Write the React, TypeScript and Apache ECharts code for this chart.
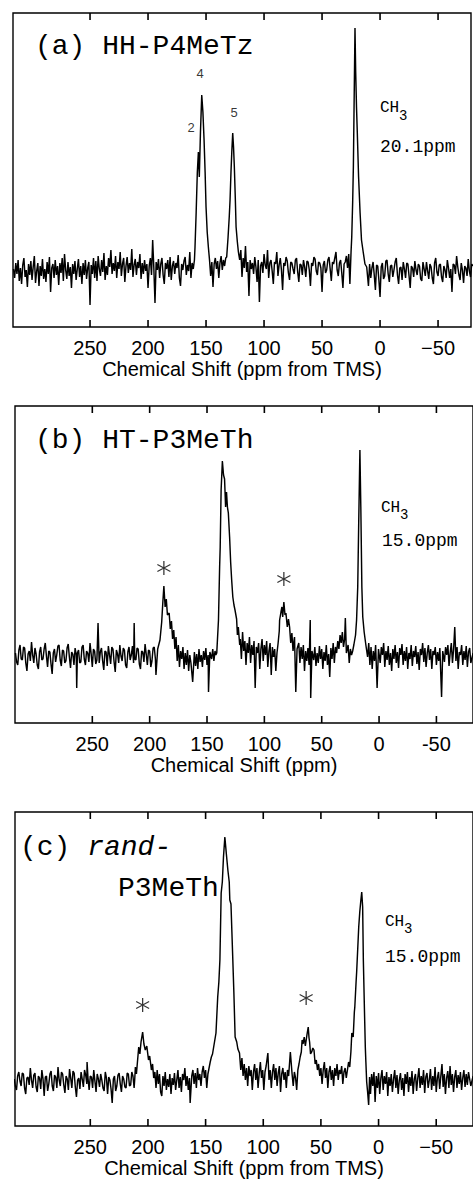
import { useEffect, useRef } from "react";
import * as echarts from "echarts";

// ---- data (ppm, intensity above baseline; arbitrary units) ----
const tickValues = [250, 200, 150, 100, 50, 0, -50];

const spectrumA: [number, number][] = [
  [316, 3], [315, -6], [314, 9], [313, -2], [312, 12], [311, -9], [310, 4], [309, -12], [308, 7], [307, 14],
  [306, -5], [305, 2], [304, -15], [303, 8], [302, -3], [301, 11], [300, -8], [299, 5], [298, 16], [297, -11],
  [296, 1], [295, 9], [294, -14], [293, 6], [292, -4], [291, 13], [290, -7], [289, 3], [288, -10], [287, 10],
  [286, -2], [285, 15], [284, -20], [283, 4], [282, 8], [281, -6], [280, 12], [279, -3], [278, 6], [277, -13],
  [276, 9], [275, -1], [274, 14], [273, -9], [272, 18], [271, 2], [270, -7], [269, 10], [268, -4], [267, 5],
  [266, -16], [265, 8], [264, -2], [263, 11], [262, -8], [261, 3], [260, 13], [259, -5], [258, 6], [257, -12],
  [256, 9], [255, -3], [254, 12], [253, -7], [252, 4], [251, 10], [250, -33], [249, 7], [248, -2], [247, 14],
  [246, -6], [245, 11], [244, -9], [243, 16], [242, 3], [241, -4], [240, 12], [239, 0], [238, 19], [237, -8],
  [236, 6], [235, -3], [234, 14], [233, 5], [232, 22], [231, -2], [230, 9], [229, 1], [228, 16], [227, -6],
  [226, 10], [225, 3], [224, 20], [223, -4], [222, 8], [221, 14], [220, -10], [219, 6], [218, 15], [217, -1],
  [216, 9], [215, 2], [214, 23], [213, -5], [212, 7], [211, 13], [210, -3], [209, 10], [208, 4], [207, 18],
  [206, -7], [205, 9], [204, -2], [203, 12], [202, 1], [201, 8], [200, -16], [199, 6], [198, 14], [197, -3],
  [196, 32], [195, 4], [194, -31], [193, 10], [192, 2], [191, 13], [190, -6], [189, 8], [188, 14], [187, -3],
  [186, -12], [185, 9], [184, 3], [183, 12], [182, -5], [181, 15], [180, -8], [179, 6], [178, 11], [177, -2],
  [176, 9], [175, 4], [174, 17], [173, -6], [172, -14], [171, 8], [170, 2], [169, 11], [168, 15], [167, -3],
  [166, 7], [165, 1], [164, 20], [163, -6], [162, 9], [161, 3], [160, 12],
  [159.5, 25], [158.5, 60], [157.5, 100], [156.6, 120], [155.8, 95], [154.8, 140], [153.7, 177], [152.7, 160],
  [151.7, 132], [150.8, 100], [150, 65], [149, 40], [148, 25], [147, 12], [146, -4], [145, 10], [144, -15],
  [143, 8], [142, 14], [141, 3], [140, 11], [139, -6], [138, 9], [137, 16], [136, 2], [135, 12], [134, 6],
  [133, 14], [132.2, 15], [131, 35], [130, 55], [129.3, 72], [128.5, 100], [127.8, 120], [127, 139], [126.3, 125],
  [125.6, 105], [124.8, 75], [124.1, 45], [123, 30], [122.1, 20], [121, 12], [120, 22], [119, -5], [118, 14],
  [117, 4], [116, 26], [115, 0], [114, 10], [113, -24], [112, 12], [111, 3], [110, 9], [109, -2], [108, 15],
  [107, 5], [106, -10], [105, 12], [104, -30], [103, 6], [102, 10], [101, -1], [100, 18], [99, 7], [98, 3],
  [97, 22], [96, -6], [95, 9], [94, 12], [93, 1], [92, -12], [91, 10], [90, 8], [89, 20], [88, -4], [87, 7],
  [86, 14], [85, 2], [84, -18], [83, 9], [82, 6], [81, 15], [80, 11], [79, -1], [78, -8], [77, 10], [76, 9],
  [75, 3], [74, -2], [73, 12], [72, 14], [71, 0], [70, -10], [69, 8], [68, 7], [67, -3], [66, 12], [65, 5],
  [64, -5], [63, 11], [62, 10], [61, 2], [60, -14], [59, 9], [58, 6], [57, 15], [56, 13], [55, 1], [54, -3],
  [53, 10], [52, 9], [51, 4], [50, -20], [49, 7], [48, 11], [47, -1], [46, 2], [45, 12], [44, 15], [43, 3],
  [42, -9], [41, 10], [40, 8], [39, 14], [38, 20], [37, 2], [36, -4], [35, 9], [34, 12], [33, -1], [32, -16],
  [31, 8], [30, 10], [29, 16], [28, 4], [27, 18], [26, -12], [25, 20],
  [24.4, 35], [23.6, 70], [23, 105], [22.3, 175], [21.6, 244], [21, 200], [20.3, 165], [19.6, 139], [18.5, 95],
  [17.2, 59], [16, 32], [14.4, 19], [13, 8], [11.5, 5], [10, -14], [9, 8], [8, -6], [7, 4], [6, 10], [5, -3],
  [4, -18], [3, 7], [2, 6], [1, -8], [0, -25], [-1, 5], [-2, 9], [-3, -7], [-4, -4], [-5, 11], [-6, 12],
  [-7, -2], [-8, -10], [-9, 6], [-10, 7], [-11, -5], [-12, 2], [-13, 10], [-14, 14], [-15, -3], [-16, -12],
  [-17, 4], [-18, 5], [-19, -8], [-20, 10], [-21, 3], [-22, -6], [-23, 9], [-24, 8], [-25, -4], [-26, -16],
  [-27, 6], [-28, 4], [-29, -5], [-30, 11], [-31, 2], [-32, -3], [-33, 8], [-34, 6], [-35, -7], [-36, -9],
  [-37, 10], [-38, 3], [-39, -4], [-40, 10], [-41, 1], [-42, -7], [-43, 8], [-44, 5], [-45, -6], [-46, -12],
  [-47, 9], [-48, 14], [-49, 0], [-50, -4], [-51, 7], [-52, 8], [-53, -5], [-54, -10], [-55, 6], [-56, 2],
  [-57, -6], [-58, 12], [-59, 4], [-60, -6], [-61, 3], [-62, -20], [-63, 8], [-64, 7], [-65, -2], [-66, 16],
  [-67, 5], [-68, -3], [-69, -8], [-70, 9], [-71, 2], [-72, -11], [-73, 6], [-74, 4], [-75, -4], [-76, 13],
  [-77, 1], [-78, -5], [-79, 8], [-80, 6],
];

const spectrumB: [number, number][] = [
  [317, 4], [316, -5], [315, -8], [314, 7], [313, 12], [312, -2], [311, -3], [310, 10], [309, 9], [308, -6],
  [307, -14], [306, 3], [305, 6], [304, -4], [303, 15], [302, 2], [301, -6], [300, 9], [299, 3], [298, -8],
  [297, -12], [296, 5], [295, 10], [294, -3], [293, -2], [292, 8], [291, 14], [290, 1], [289, -10], [288, 6],
  [287, 5], [286, -7], [285, -17], [284, 4], [283, 8], [282, -5], [281, 2], [280, 11], [279, 12], [278, -3],
  [277, -9], [276, 7], [275, 6], [274, -6], [273, -4], [272, 9], [271, 13], [270, 0], [269, -11], [268, 5],
  [267, 3], [266, -8], [265, 9], [264, 2], [263.6, -31], [263, 4], [262, 7], [261, -6], [260, -5], [259, 10],
  [258, 12], [257, -2], [256, -8], [255, 6], [254, 4], [253, -5], [252, 14], [251, 3], [250, -10], [249, 8],
  [248, 6], [247, -7], [246, -3], [245, 34], [244, -6], [243, 5], [242, 9], [241, -4], [240, -13], [239, 6],
  [238, 5], [237, -9], [236, 11], [235, 2], [234, -7], [233, 10], [232, 8], [231, -5], [230, -15], [229, 7],
  [228, 3], [227, -6], [226, 12], [225, 1], [224, -4], [223, 9], [222, 7], [221, -8], [220, -11], [219, 5],
  [218, 10], [217, -3], [216, 2], [215, 11], [214, -6], [213.5, 34], [213, -2], [212, -3], [211, 9], [210, 8],
  [209, -7], [208, -12], [207, 6], [206, 5], [205, -5], [204, 13], [203, 3], [202, -8], [201, 7], [200, 6],
  [199, -10], [198, -4], [197, 9], [196, 10], [195, -2], [194.5, -18], [193, 8], [191, 17], [189.5, 35],
  [188.5, 55], [187.6, 71], [186.5, 50], [185.5, 58], [184.5, 42], [183, 44], [182, 28], [181, 36], [180, 18],
  [179, 27], [178, 8], [177, 20], [176, -4], [175, 12], [174, -10], [173, 6], [172, -2], [171, 10], [170, -12],
  [169, 4], [168, -8], [167, 7], [166, -14], [165, 2], [164, -6], [162.5, -25], [161, 5], [160, -9], [159, 3],
  [158, -12], [157, 8], [156, -5], [155, 2], [154, -10], [153, 6], [152, -3], [151, 9], [150, -8], [149, 2],
  [148.7, -35], [147.5, 5], [146, -2], [145, 8], [144, -4], [143, 6], [142.3, 2], [141.5, 4], [140, 37],
  [139, 90], [138.5, 110], [137.7, 167], [136.6, 196], [135.6, 182], [134.7, 178], [133.8, 150], [133, 165],
  [132.2, 150], [131.4, 144], [130.3, 120], [129.4, 95], [128.5, 77], [127.5, 60], [126.5, 52], [125.6, 47],
  [124.2, 38], [123.5, 22], [122.7, 30], [121.5, 12], [121, 18], [120, -2], [119, 25], [118, 6], [117, 16],
  [116, -8], [115, 14], [114, 4], [113, 20], [112, -6], [111, 12], [110, 2], [109, 16], [108, -31], [107, 10],
  [106, 4], [105, 14], [104, -12], [103, 8], [102, 18], [101, -4], [100, 12], [99, 2], [98, 16], [97, -10],
  [96, 6], [95, 14], [94, -18], [93, 10], [92, 0], [91, 8], [90, -14], [89, 4], [88, 14], [87, 26], [86.7, 37],
  [85.5, 45], [84.7, 50], [84, 40], [83, 55], [82, 42], [81.2, 44], [80, 30], [79, 38], [78, 30], [77, 14],
  [76, 24], [75, 6], [74, 18], [73.7, 20], [72.6, -35], [71.5, 8], [70, 14], [69, -6], [68, 10], [67, -2],
  [66, 12], [65, -14], [64, 6], [63, -4], [62, 9], [61, -8], [60, 37], [59.6, -41], [58.5, 6], [57, -3],
  [56, 10], [55, -9], [54, 4], [53, -6], [52, 11], [51, -2], [50, 8], [49, -12], [48, 5], [47, -4], [46, 12],
  [45, -8], [44, 3], [43, -20], [42, 9], [41, -2], [40, 14], [39, -6], [38, 10], [37, 4], [36, 16], [35, 8],
  [34, 22], [33, 14], [32, 25], [31, 10], [30, 18], [29.4, 39], [28.5, 4], [27, 12], [26, -6], [25, 8],
  [24, 2], [23, 6], [22, 12], [20.5, 22], [19.6, 37], [18.6, 70], [17.8, 130], [16.7, 207], [15.9, 150],
  [15, 70], [14.2, 40], [13, 25], [11.5, 12], [10, 0], [9, 14], [8, -8], [7, 10], [6, -12], [5, 6], [4, -4],
  [3, 12], [1.7, -31], [0.5, 8], [-1, -6], [-2, 10], [-3, 2], [-4, 14], [-5, -10], [-6, 6], [-7, -3], [-8, 11],
  [-9, -8], [-10, 4], [-11, -14], [-12, 8], [-13, -2], [-14, 12], [-15, -6], [-16, 5], [-17, -11], [-18, 9],
  [-19, 2], [-20, 13], [-21, -8], [-22, 6], [-23, -4], [-24, 10], [-25, -12], [-26, 4], [-27, -2], [-28, 12],
  [-29, -9], [-30, 6], [-31, 0], [-32, 11], [-33, -7], [-34, 5], [-35, -13], [-36, 8], [-37, 2], [-38, 14],
  [-39, -5], [-40, 9], [-41, -10], [-42, 4], [-43, 12], [-44, -3], [-45, 8], [-46, -12], [-47, 6], [-48, 2],
  [-49, 10], [-50, -8], [-51, 5], [-52, -4], [-53, 9], [-54.5, -40], [-55.5, 6], [-57, -5], [-58, 10], [-59, 2],
  [-60, 12], [-61, -9], [-62, 4], [-63, 14], [-64, -6], [-65, 8], [-66, 30], [-67, -4], [-68, 10], [-69, -12],
  [-70, 5], [-71, 2], [-72, 12], [-73, -8], [-74, 6], [-75, -3], [-76, 11], [-77, -10], [-78, 5], [-79, 9],
  [-80, -6], [-82, 4],
];

const spectrumC: [number, number][] = [
  [316, 3], [315, -4], [314, -8], [313, 6], [312, 10], [311, 1], [310, -4], [309, 9], [308, 8], [307, -6],
  [306, -12], [305, 4], [304, 5], [303, -3], [302, 14], [301, 2], [300, -6], [299, 7], [298, 9], [297, -5],
  [296, -10], [295, 6], [294, 4], [293, -7], [292, 12], [291, 3], [290, -14], [289, 5], [288, 6], [287, -9],
  [286, -2], [285, 8], [284, 11], [283, -4], [282, -9], [281, 7], [280, 5], [279, -6], [278, 15], [277, 2],
  [276, -4], [275, 10], [274, 8], [273, -3], [272, -11], [271, 6], [270, 3], [269, -8], [268, 13], [267, 4],
  [266, -6], [265, 11], [264, 9], [263, -5], [262, -15], [261, 2], [260, 4], [259, -7], [258, 10], [257, 3],
  [256, -5], [255, 12], [254, 7], [253, -2], [252.8, 20], [252, 4], [251, -8], [250, 6], [249, 5], [248, -6],
  [247, 12], [246, 1], [245, -10], [244, 8], [243, 3], [242, -5], [241, 8], [240, 2], [239, -6], [238, -9],
  [237, 10], [236, 4], [235, -12], [234, 5], [233, 2], [232, -7], [231, -21], [230, 3], [229, 6], [228, -9],
  [227, -4], [226, 7], [225, 9], [224, -2], [223, -10], [222, 6], [221, 3], [220, -5], [219, -6], [218, 9],
  [217, 8], [216, -4], [215, -3], [214, 10], [213, 6], [212, -6], [211.5, 2], [210.9, 15], [210, 8], [208, 35],
  [207, 28], [206, 40], [204.6, 50], [203.5, 38], [202.3, 32], [201, 36], [199.5, 22], [198.5, 26], [197, 12],
  [196, 18], [195, 4], [194, 10], [193, -6], [192, 12], [191, -2], [190, 8], [189, -10], [188, -14], [187, 6],
  [186, -4], [185, 10], [184, -8], [183, 3], [182, -5], [181, 8], [180, -12], [179, 4], [178, -3], [177, 9],
  [176, -8], [175, 2], [174, 12], [173, -6], [172, 5], [171, -10], [170, 8], [169, 2], [168, 14], [167, -4],
  [166, 6], [165, -8], [164, 4], [163.4, -21], [162, 6], [161, 12], [160, -2], [159, 9], [158, -6], [157, 14],
  [156, 2], [155, 8], [154, -4], [153, 10], [152, 16], [151, 4], [150, 12], [149, -6], [148, 8], [147, 14],
  [146, 20], [145, 25], [144, 28], [143, 35], [141, 49], [139.5, 85], [138.5, 100], [137.6, 122], [136.5, 189],
  [135.5, 200], [134.5, 225], [133.3, 245], [132, 228], [130.7, 212], [129.5, 200], [129, 182], [128, 178],
  [127.2, 150], [126.4, 122], [125.5, 90], [124.4, 45], [123, 40], [122, 33], [120.6, 29], [119.5, 12],
  [118.5, 24], [117.5, 6], [116.5, 18], [115.5, 2], [114.5, 14], [113.5, -4], [112.5, 16], [111.5, 6],
  [110.5, 12], [109.5, -8], [108.5, 10], [107.5, 18], [106.5, 2], [105.5, 14], [104.5, -6], [103.5, 9],
  [102.5, 20], [101.5, 4], [100.5, 12], [99.5, -8], [98.5, 10], [97.5, 16], [96, 29], [95, 2], [94, 12],
  [93, -6], [92, 10], [91, 18], [90, 2], [89, 14], [88, -4], [87, 9], [86, 16], [85, -10], [84, 8], [83, 14],
  [82, 2], [81, 10], [80, -6], [79, 12], [78, 6], [76.5, 30], [75, 8], [74, -4], [73, 10], [72, 4], [71, -8],
  [70, 12], [69, 18], [68, 25], [67, 30], [66.3, 42], [65.5, 38], [64.5, 45], [63.5, 36], [63, 40], [62, 48],
  [61, 55], [60.3, 44], [59.8, 40], [59, 28], [58, 30], [57, 34], [56, 32], [55, 18], [54, 22], [53, 12],
  [52, 18], [51, 6], [50, 14], [49, -2], [48, 12], [47, 20], [46, 4], [45, 14], [44, -6], [43, 10], [42, 16],
  [41, 2], [40, 12], [39, -4], [38, 14], [37, 6], [36, 18], [35, 2], [34, 12], [33, 8], [32, 16], [31, -2],
  [30, 10], [29, 14], [28, 4], [27, 12], [26, 20], [25, 15], [24, 30], [23.2, 49], [22, 45], [21, 70],
  [20.6, 75], [19.5, 100], [19, 110], [18, 135], [17.2, 155], [16.3, 170], [15.5, 180], [14.6, 190],
  [13.8, 175], [13.2, 122], [12.4, 80], [12, 60], [11.5, 35], [11, 20], [10.3, 0], [9.5, -10], [8.6, -23],
  [7.8, 5], [7, -12], [6, 8], [5, -4], [4, 10], [3, -20], [2, 6], [1, -6], [0, 9], [-1, -12], [-2, 4], [-3, 12],
  [-4, -8], [-5, 6], [-6, -2], [-7, 10], [-8, -14], [-9, 5], [-10, -4], [-11, 8], [-12, -10], [-13, 3],
  [-14, 12], [-15, -6], [-16, 7], [-17, -12], [-18, 2], [-19, 9], [-20, -8], [-21, 4], [-22, -14], [-23, 8],
  [-24, -2], [-25, 10], [-26, -10], [-27, 5], [-28, -4], [-29, 11], [-30, -12], [-31, 3], [-32, 8], [-33, -9],
  [-34, 4], [-35, 14], [-36, -6], [-37, 6], [-38, -3], [-39, 12], [-40, -11], [-41, 5], [-42, 9], [-43, -6],
  [-44, 2], [-45, 13], [-46, -8], [-47, 6], [-48, -4], [-49, 15], [-50, -10], [-51, 4], [-52, 10], [-53, -7],
  [-54, 6], [-55, 18], [-56, -5], [-57, 8], [-58, -12], [-59, 4], [-60, 11], [-61, -6], [-62, 16], [-63, -3],
  [-64, 8], [-65, -10], [-66, 5], [-67, 12], [-68, -6], [-69, 7], [-70, -2], [-71, 10], [-72, -8], [-73, 4],
  [-74, 12], [-75, -5], [-76, 8], [-77, -3], [-78, 10], [-80, -4], [-82, 6],
];

// peak assignments in (a): [ppm, height, label]
const peakLabelsA: [number, number, string][] = [
  [155.2, 199, "4"],
  [125.9, 160, "5"],
  [162.9, 145, "2"],
];
// spinning side band markers [ppm, height]
const sidebandsB: [number, number][] = [[187.6, 89], [83, 78]];
const sidebandsC: [number, number][] = [[204.6, 77], [62.8, 84]];

const panelTitles = ["(a) HH-P4MeTz", "(b) HT-P3MeTh"];
const axisNames = [
  "Chemical Shift (ppm from TMS)",
  "Chemical Shift (ppm)",
  "Chemical Shift (ppm from TMS)",
];
const shiftTexts = ["20.1ppm", "15.0ppm", "15.0ppm"];

const SANS = "'Liberation Sans', Arial, Helvetica, sans-serif";
const MONO = "'Liberation Mono', 'Courier New', monospace";

const asteriskPath = "path://M6,0L6,14M0,3.5L12,10.5M0,10.5L12,3.5";

export default function App() {
  const ref = useRef<HTMLDivElement>(null);

  useEffect(() => {
    if (!ref.current) return;
    const chart = echarts.init(ref.current, null, { renderer: "svg" });

    const panels = [
      { left: 13, top: 13, width: 458, height: 314, xMin: -78.4, xMax: 316.4, yMin: -55, yMax: 259, nameGap: 27, longMinus: true },
      { left: 15, top: 406, width: 462, height: 317, xMin: -81.9, xMax: 317.4, yMin: -66, yMax: 251, nameGap: 27, longMinus: false },
      { left: 15, top: 812, width: 462, height: 314, xMin: -81.9, xMax: 315.3, yMin: -44, yMax: 270, nameGap: 32, longMinus: true },
    ];
    const spectra = [spectrumA, spectrumB, spectrumC];

    const grid: any[] = [];
    const xAxis: any[] = [];
    const yAxis: any[] = [];
    const series: any[] = [];

    panels.forEach((p, i) => {
      grid.push({
        left: p.left, top: p.top, width: p.width, height: p.height,
        show: true, borderColor: "#000", borderWidth: 1.4, backgroundColor: "transparent",
      });
      xAxis.push({
        type: "value", gridIndex: i, min: p.xMin, max: p.xMax, inverse: true, position: "bottom",
        axisLine: { show: false, onZero: false }, splitLine: { show: false }, axisTick: { show: false },
        axisLabel: {
          show: true, customValues: tickValues, margin: 11, fontSize: 20, fontFamily: SANS, color: "#000",
          formatter: (v: number) => (v < 0 ? (p.longMinus ? "\u2212" : "-") + Math.abs(v) : String(v)),
        },
        name: axisNames[i], nameLocation: "middle", nameGap: p.nameGap,
        nameTextStyle: { fontSize: 20, fontFamily: SANS, color: "#000" },
      });
      yAxis.push({ type: "value", gridIndex: i, min: p.yMin, max: p.yMax, show: false });
      series.push({
        type: "line", xAxisIndex: i, yAxisIndex: i, data: spectra[i],
        symbol: "none", silent: true, clip: true,
        lineStyle: { color: "#000", width: 1.45 },
      });
      // inward tick marks on bottom and top frame edges, placed through the axis scales
      series.push({
        type: "custom", xAxisIndex: i, yAxisIndex: i, clip: false, z: 5,
        data: tickValues.map((v) => [v]),
        renderItem: (_params: any, api: any) => {
          const b = api.coord([api.value(0), p.yMin]);
          const t = api.coord([api.value(0), p.yMax]);
          return {
            type: "group",
            children: [
              { type: "line", shape: { x1: b[0], y1: b[1], x2: b[0], y2: b[1] - 7 }, style: { stroke: "#000", lineWidth: 1.6 } },
              { type: "line", shape: { x1: t[0], y1: t[1], x2: t[0], y2: t[1] + 7 }, style: { stroke: "#000", lineWidth: 1.6 } },
            ],
          };
        },
      });
    });

    series.push({
      type: "scatter", xAxisIndex: 0, yAxisIndex: 0, data: peakLabelsA,
      symbolSize: 1, itemStyle: { color: "transparent" }, silent: true,
      label: {
        show: true, position: "inside", formatter: (p: any) => p.value[2],
        fontSize: 13, fontFamily: SANS, color: "#000", textBorderWidth: 0,
      },
    });
    [sidebandsB, sidebandsC].forEach((d, k) => {
      series.push({
        type: "scatter", xAxisIndex: k + 1, yAxisIndex: k + 1, data: d,
        symbol: asteriskPath, symbolSize: [13, 14], silent: true,
        itemStyle: { color: "transparent", borderColor: "#000", borderWidth: 1.3 },
      });
    });

    const txt = (x: number, y: number, text: string, fontSize: number, extra: any = {}) => ({
      type: "text", x, y, silent: true, z: 10,
      style: { text, fontSize, fontFamily: MONO, fill: "#000", verticalAlign: "middle", ...extra },
    });

    const graphic: any[] = [
      txt(35, 46, panelTitles[0], 28),
      txt(35, 440, panelTitles[1], 28),
      txt(20, 847, "(c) {i|rand-}", 28, {
        rich: { i: { fontStyle: "italic", fontFamily: MONO, fontSize: 28, fill: "#000" } },
      }),
      txt(118, 888, "P3MeTh", 28),
      txt(380, 108, "CH", 16), txt(399, 116, "3", 14), txt(380, 147, shiftTexts[0], 18),
      txt(381, 508, "CH", 16), txt(400, 515, "3", 14), txt(382, 541, shiftTexts[1], 18),
      txt(385, 922, "CH", 16), txt(404, 929, "3", 14), txt(385, 957, shiftTexts[2], 18),
    ];

    chart.setOption({
      animation: false,
      backgroundColor: "#fff",
      grid, xAxis, yAxis, series, graphic,
    });

    return () => chart.dispose();
  }, []);

  return (
    <div
      ref={ref}
      style={{ position: "absolute", left: 0, top: 0, width: 473, height: 1180 }}
    />
  );
}
